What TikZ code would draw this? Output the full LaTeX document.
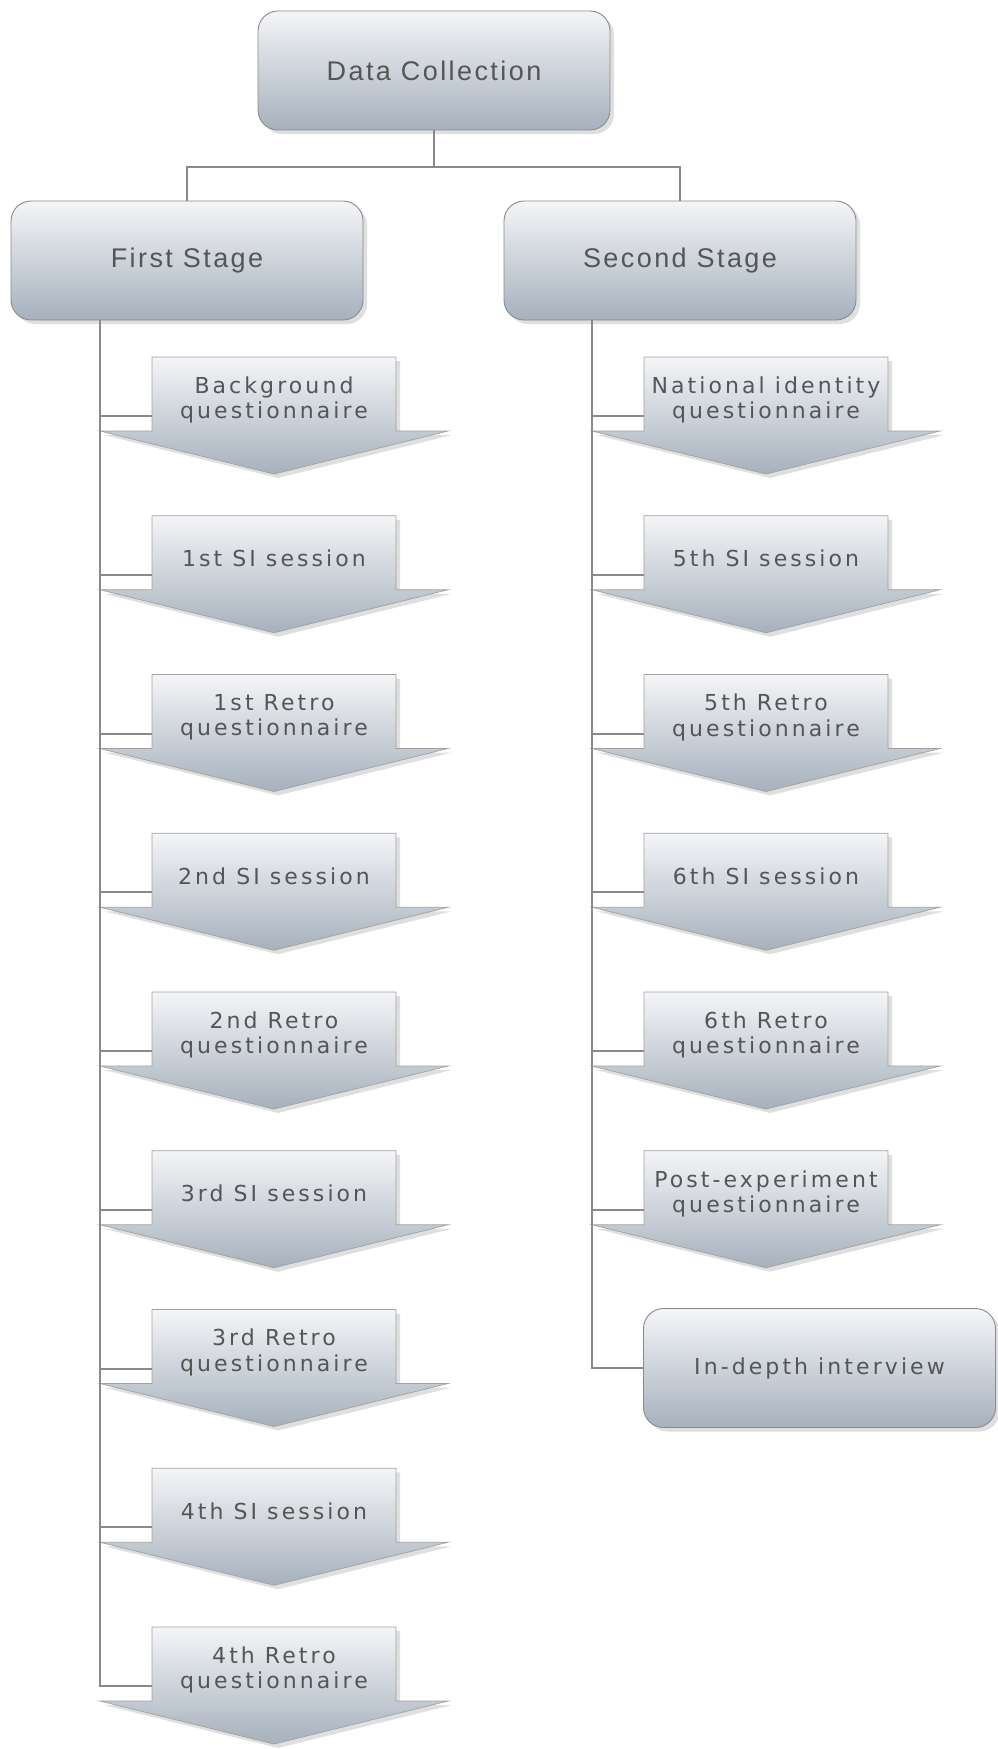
\documentclass[tikz,border=0pt]{standalone}
\usepackage{fontspec}
\setmainfont{DejaVu Sans}
\newfontfamily\arrowfont[LetterSpace=14]{DejaVu Sans}
\newfontfamily\titlefont[LetterSpace=9]{Liberation Sans}
\usetikzlibrary{calc, shadows}

\definecolor{shadetop}{HTML}{F4F5F7}
\definecolor{shadebot}{HTML}{A6B1BD}
\definecolor{inkgray}{HTML}{555555}
\definecolor{linkgray}{HTML}{8A8A8A}

\tikzset{
    softshadow/.style={drop shadow={opacity=0.25, shadow xshift=4pt, shadow yshift=-4pt}},
    stagebox/.style={draw=linkgray, line width=0.9pt, rounded corners=20pt,
        top color=shadetop, bottom color=shadebot, softshadow,
        minimum width=352pt, minimum height=119pt, text=inkgray,
        font=\titlefont\fontsize{27}{30}\selectfont},
    arrowbody/.style={draw=linkgray!80, line width=0.7pt,
        top color=shadetop, bottom color=shadebot, softshadow},
    arrowtext/.style={text=inkgray, align=center, minimum width=244pt,
        font=\arrowfont\fontsize{22}{25.5}\selectfont},
    link/.style={draw=linkgray, line width=2pt}
}

% one step arrow: name, x of centre, y of top, text
\newcommand{\stagearrow}[4]{%
    \path[arrowbody] (#2-122,#3) -- (#2+122,#3) -- (#2+122,#3+74)
        -- (#2+174,#3+74) -- (#2,#3+117) -- (#2-174,#3+74)
        -- (#2-122,#3+74) -- cycle;
    \node[arrowtext] (#1) at (#2,#3+43) {#4};
    \coordinate (#1in) at (#2-122,#3+59);
}

\begin{document}
\begin{tikzpicture}[x=1pt, y=-1pt]
    \useasboundingbox (0,0) rectangle (998,1749);

    \node[stagebox] (dc) at (434,70.5) {Data Collection};
    \node[stagebox] (first) at (187,260.5) {First Stage};
    \node[stagebox] (second) at (680,260.5) {Second Stage};

    \coordinate (split) at (434,167);
    \draw[link] (dc.south) -- (split) -| (first.north);
    \draw[link] (split) -| (second.north);

    % first stage
    \stagearrow{l1}{274}{357}{Background\\questionnaire}
    \stagearrow{l2}{274}{515.75}{1st SI session}
    \stagearrow{l3}{274}{674.5}{1st Retro\\questionnaire}
    \stagearrow{l4}{274}{833.25}{2nd SI session}
    \stagearrow{l5}{274}{992}{2nd Retro\\questionnaire}
    \stagearrow{l6}{274}{1150.75}{3rd SI session}
    \stagearrow{l7}{274}{1309.5}{3rd Retro\\questionnaire}
    \stagearrow{l8}{274}{1468.25}{4th SI session}
    \stagearrow{l9}{274}{1627}{4th Retro\\questionnaire}

    % second stage
    \stagearrow{r1}{766}{357}{National identity\\questionnaire}
    \stagearrow{r2}{766}{515.75}{5th SI session}
    \stagearrow{r3}{766}{674.5}{5th Retro\\questionnaire}
    \stagearrow{r4}{766}{833.25}{6th SI session}
    \stagearrow{r5}{766}{992}{6th Retro\\questionnaire}
    \stagearrow{r6}{766}{1150.75}{Post-experiment\\questionnaire}
    \node[stagebox, font=\arrowfont\fontsize{22}{25.5}\selectfont] (interview) at (819.5,1368) {In-depth interview};

    % trunks and branches
    \coordinate (ltrunk) at (100,320);
    \coordinate (rtrunk) at (592,320);
    \draw[link] (ltrunk) |- (l9in);
    \draw[link] (rtrunk) |- (interview.west);
    \draw[link] (ltrunk |- l1in) -- (l1in);
    \draw[link] (ltrunk |- l2in) -- (l2in);
    \draw[link] (ltrunk |- l3in) -- (l3in);
    \draw[link] (ltrunk |- l4in) -- (l4in);
    \draw[link] (ltrunk |- l5in) -- (l5in);
    \draw[link] (ltrunk |- l6in) -- (l6in);
    \draw[link] (ltrunk |- l7in) -- (l7in);
    \draw[link] (ltrunk |- l8in) -- (l8in);
    \draw[link] (rtrunk |- r1in) -- (r1in);
    \draw[link] (rtrunk |- r2in) -- (r2in);
    \draw[link] (rtrunk |- r3in) -- (r3in);
    \draw[link] (rtrunk |- r4in) -- (r4in);
    \draw[link] (rtrunk |- r5in) -- (r5in);
    \draw[link] (rtrunk |- r6in) -- (r6in);
\end{tikzpicture}
\end{document}
